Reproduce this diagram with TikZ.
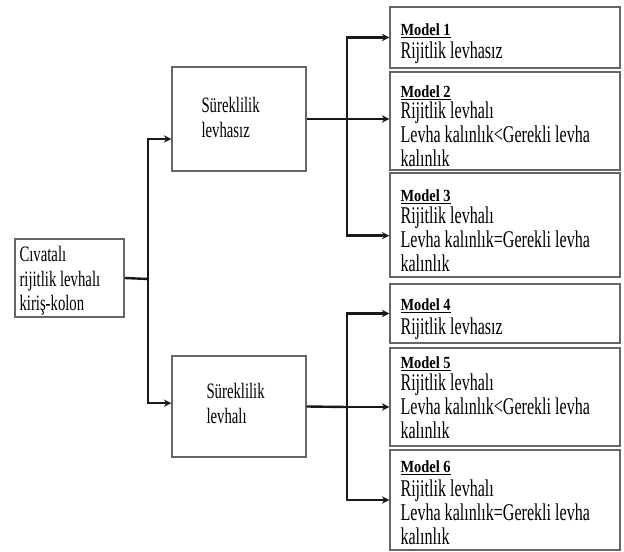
\documentclass[tikz,border=0pt]{standalone}
\usepackage{fontspec}
\setmainfont{Liberation Serif}
\newfontfamily\tallfont[FakeStretch=0.67]{Liberation Serif}
\newfontfamily\headfont[FakeStretch=0.85]{Liberation Serif}
\usetikzlibrary{arrows.meta,positioning}

\tikzset{
  box/.style={draw=black!60, line width=1.1pt, inner sep=0pt},
  link/.style={line width=1.8pt, draw=black!90},
  arr/.style={link, -{Stealth[length=5.5pt,width=5.5pt]}},
  txt/.style={align=left, inner sep=0pt, anchor=north west, font=\tallfont\fontsize{16.5}{18.4}\selectfont},
  mtxt/.style={txt, font=\tallfont\fontsize{18}{18}\selectfont}
}
\newcommand{\mhead}[1]{\underline{\headfont\fontsize{12.75}{14}\selectfont\bfseries #1}}

\begin{document}
\begin{tikzpicture}[x=0.75pt,y=-0.75pt]
\useasboundingbox (0,0) rectangle (624,552);
% boxes
\node[box, minimum width=81.75pt, minimum height=58.5pt] (civ) at (69.5,278) {};
\node[box, minimum width=100.5pt, minimum height=78pt] (s1) at (239,119) {};
\node[box, minimum width=100.5pt, minimum height=75.75pt] (s2) at (239,406.5) {};
\node[box, minimum width=172.5pt, minimum height=45.75pt] (m1) at (505,37.5) {};
\node[box, minimum width=172.5pt, minimum height=73.5pt] (m2) at (505,121) {};
\node[box, minimum width=172.5pt, minimum height=78pt] (m3) at (505,225) {};
\node[box, minimum width=172.5pt, minimum height=44.25pt] (m4) at (505,313.5) {};
\node[box, minimum width=172.5pt, minimum height=73.5pt] (m5) at (505,397) {};
\node[box, minimum width=172.5pt, minimum height=75pt] (m6) at (505,500) {};
% texts
\node[txt] (civt) at ([shift={(5,8)}]civ.north west) {Cıvatalı\\rijitlik levhalı\\kiriş-kolon};
\node[txt] (s1t) at ([shift={(30,31)}]s1.north west) {Süreklilik\\levhasız};
\node[txt] (s2t) at ([shift={(35,28)}]s2.north west) {Süreklilik\\levhalı};
\node[mtxt] (m1t) at ([shift={(11,17)}]m1.north west) {\mhead{Model 1}\\[-0.5pt]Rijitlik levhasız};
\node[mtxt] (m2t) at ([shift={(11,14)}]m2.north west) {\mhead{Model 2}\\[-2pt]Rijitlik levhalı\\Levha kalınlık<Gerekli levha\\kalınlık};
\node[mtxt] (m3t) at ([shift={(11,17)}]m3.north west) {\mhead{Model 3}\\[-1pt]Rijitlik levhalı\\Levha kalınlık=Gerekli levha\\kalınlık};
\node[mtxt] (m4t) at ([shift={(11,15)}]m4.north west) {\mhead{Model 4}\\[0pt]Rijitlik levhasız};
\node[mtxt] (m5t) at ([shift={(11,9)}]m5.north west) {\mhead{Model 5}\\[-1.5pt]Rijitlik levhalı\\Levha kalınlık<Gerekli levha\\kalınlık};
\node[mtxt] (m6t) at ([shift={(11,11)}]m6.north west) {\mhead{Model 6}\\[0pt]Rijitlik levhalı\\Levha kalınlık=Gerekli levha\\kalınlık};
% connectors
\coordinate (j0) at (148,279);
\coordinate (j1) at (347,119);
\coordinate (j2) at (347,407);
\draw[link] (civ.east) -- (j0);
\draw[arr] (j0) |- ([yshift=-15pt]s1.west);
\draw[arr] (j0) |- ([yshift=2.5pt]s2.west);
\draw[link] (s1.east) -- (j1);
\draw[arr] (j1) |- (m1.west);
\draw[arr] (j1) -- (j1 -| m2.west);
\draw[arr] (j1) |- ([yshift=-8pt]m3.west);
\draw[link] (s2.east) -- (j2);
\draw[arr] (j2) |- (m4.west);
\draw[arr] (j2) -- (j2 -| m5.west);
\draw[arr] (j2) |- (m6.west);
\end{tikzpicture}
\end{document}
